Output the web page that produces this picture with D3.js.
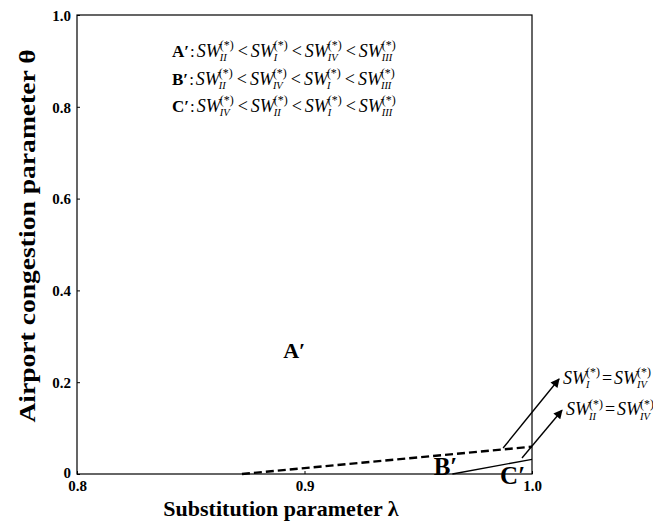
<!DOCTYPE html>
<html>
<head>
<meta charset="utf-8">
<script src="https://cdn.jsdelivr.net/npm/d3@7"></script>
<style>
  body { margin: 0; background: #fff; }
  svg { font-family: "Liberation Serif", "Times New Roman", serif; }
</style>
</head>
<body>
<div id="chart"></div>
<script>
// region boundaries (lambda, theta)
const dashedLambda = [0.8725, 1.0];
const dashedTheta = [0, 0.0595];
const solidLambda = [0.965, 1.0];
const solidTheta = [0, 0.032];

// region labels
const regionNames = ["A\u2032", "B\u2032", "C\u2032"];
const regionLambda = [0.8955, 0.962, 0.9915];
const regionTheta = [0.27, 0.017, -0.003];

// arrows pointing to the boundary equations
const arrowFromLambda = [0.9873, 0.9956];
const arrowFromTheta = [0.0566, 0.035];
const arrowToLambda = [1.0119, 1.0132];
const arrowToTheta = [0.207, 0.139];
const equationLeft = ["I", "II"];
const equationRight = ["IV", "IV"];

// ranking lines in the top-left
const rankNames = ["A\u2032", "B\u2032", "C\u2032"];
const rankOrder = [
  ["II", "I", "IV", "III"],
  ["II", "IV", "I", "III"],
  ["IV", "II", "I", "III"],
];

const xTicks = [0.8, 0.9, 1.0];
const yTicks = [0, 0.2, 0.4, 0.6, 0.8, 1.0];

const margin = { top: 15, right: 121, bottom: 51, left: 77 },
  width = 653 - margin.left - margin.right,
  height = 525 - margin.top - margin.bottom;

const root = d3.select("#chart")
  .append("svg")
  .attr("width", 653)
  .attr("height", 525);

root.append("defs").append("marker")
  .attr("id", "arrow")
  .attr("viewBox", "0 0 10 10")
  .attr("refX", 9)
  .attr("refY", 5)
  .attr("markerWidth", 11)
  .attr("markerHeight", 9)
  .attr("markerUnits", "userSpaceOnUse")
  .attr("orient", "auto")
  .append("path")
  .attr("d", "M0,0 L10,5 L0,10 z")
  .attr("fill", "#000");

const svg = root.append("g")
  .attr("transform", `translate(${margin.left},${margin.top})`);

const x = d3.scaleLinear().domain([0.8, 1.0]).range([0, width]);
const y = d3.scaleLinear().domain([0, 1]).range([height, 0]);

// frame
svg.append("rect")
  .attr("width", width)
  .attr("height", height)
  .attr("fill", "none")
  .attr("stroke", "#000")
  .attr("stroke-width", 1.2);

// axes
const fmtY = (d) => (d === 0 ? "0" : d3.format(".1f")(d));
svg.append("g")
  .attr("class", "axis")
  .call(d3.axisLeft(y).tickValues(yTicks).tickFormat(fmtY).tickSizeInner(-3).tickSizeOuter(0).tickPadding(6))
  .call((g) => g.select(".domain").remove())
  .call((g) => g.selectAll("text").attr("dy", (d) => (d === 0 ? "0.2em" : "0.35em")));

svg.append("g")
  .attr("class", "axis")
  .attr("transform", `translate(0,${height})`)
  .call(d3.axisBottom(x).tickValues(xTicks).tickFormat(d3.format(".1f")).tickSizeInner(-3).tickSizeOuter(0).tickPadding(6))
  .call((g) => g.select(".domain").remove());

svg.selectAll(".axis text")
  .attr("font-family", "Liberation Serif, Times New Roman, serif")
  .attr("font-size", 15)
  .attr("font-weight", "bold")
  .attr("fill", "#000");
svg.selectAll(".axis line").attr("stroke", "#000");

// axis titles
root.append("text")
  .attr("transform", `translate(35,236) rotate(-90) scale(1.2,1)`)
  .attr("text-anchor", "middle")
  .attr("font-size", 23)
  .attr("font-weight", "bold")
  .text("Airport congestion parameter \u03b8");

root.append("text")
  .attr("x", 281)
  .attr("y", 516)
  .attr("text-anchor", "middle")
  .attr("font-size", 22)
  .attr("font-weight", "bold")
  .text("Substitution parameter \u03bb");

// boundaries
const line = d3.line().x((d) => x(d[0])).y((d) => y(d[1]));
svg.append("path")
  .attr("d", line(d3.zip(dashedLambda, dashedTheta)))
  .attr("fill", "none")
  .attr("stroke", "#000")
  .attr("stroke-width", 2.4)
  .attr("stroke-dasharray", "8,4");
svg.append("path")
  .attr("d", line(d3.zip(solidLambda, solidTheta)))
  .attr("fill", "none")
  .attr("stroke", "#000")
  .attr("stroke-width", 1.3);

// region labels
svg.selectAll(".region")
  .data(d3.zip(regionNames, regionLambda, regionTheta))
  .enter()
  .append("text")
  .attr("class", "region")
  .attr("x", (d) => x(d[1]))
  .attr("y", (d) => y(d[2]))
  .attr("dy", "0.35em")
  .attr("text-anchor", "middle")
  .attr("font-size", (d, i) => (i === 0 ? 22 : 25))
  .attr("font-weight", "bold")
  .text((d) => d[0]);

// SW term: italic SW with subscript numeral and superscript (*)
function swTerm(g, x0, yb, sub, size) {
  const main = g.append("text")
    .attr("x", x0).attr("y", yb)
    .attr("font-size", size)
    .attr("font-style", "italic")
    .text("SW");
  const w = main.node().getComputedTextLength();
  const sup = g.append("text")
    .attr("x", x0 + w - 1).attr("y", yb - size * 0.42)
    .attr("font-size", size * 0.66)
    .text("(*)");
  const s = g.append("text")
    .attr("x", x0 + w - 1).attr("y", yb + size * 0.24)
    .attr("font-size", size * 0.58)
    .attr("font-style", "italic")
    .text(sub);
  return x0 + w - 1 + Math.max(sup.node().getComputedTextLength(), s.node().getComputedTextLength());
}

function plain(g, x0, yb, str, size, bold) {
  const t = g.append("text")
    .attr("x", x0).attr("y", yb)
    .attr("font-size", size)
    .attr("font-weight", bold ? "bold" : "normal")
    .text(str);
  return x0 + t.node().getComputedTextLength();
}

// ranking block
const rank = root.append("g");
rankOrder.forEach((order, i) => {
  const yb = 57 + i * 27.5;
  let cx = 172;
  cx = plain(rank, cx, yb, rankNames[i], 17, true);
  cx = plain(rank, cx + 1, yb, ":", 17, false) + 2;
  order.forEach((r, j) => {
    if (j > 0) cx = plain(rank, cx + 4, yb, "<", 18, false) + 3;
    cx = swTerm(rank, cx, yb, r, 18);
  });
});

// arrows and equations
const eq = root.append("g");
arrowFromLambda.forEach((d, i) => {
  svg.append("line")
    .attr("x1", x(d))
    .attr("y1", y(arrowFromTheta[i]))
    .attr("x2", x(arrowToLambda[i]))
    .attr("y2", y(arrowToTheta[i]))
    .attr("stroke", "#000")
    .attr("stroke-width", 1.4)
    .attr("marker-end", "url(#arrow)");
  const ex = margin.left + x(arrowToLambda[i]) + 4;
  const ey = margin.top + y(arrowToTheta[i]) + 5;
  let cx = swTerm(eq, ex, ey, equationLeft[i], 18);
  cx = plain(eq, cx + 2, ey, "=", 18, false) + 2;
  swTerm(eq, cx, ey, equationRight[i], 18);
});
</script>
</body>
</html>
